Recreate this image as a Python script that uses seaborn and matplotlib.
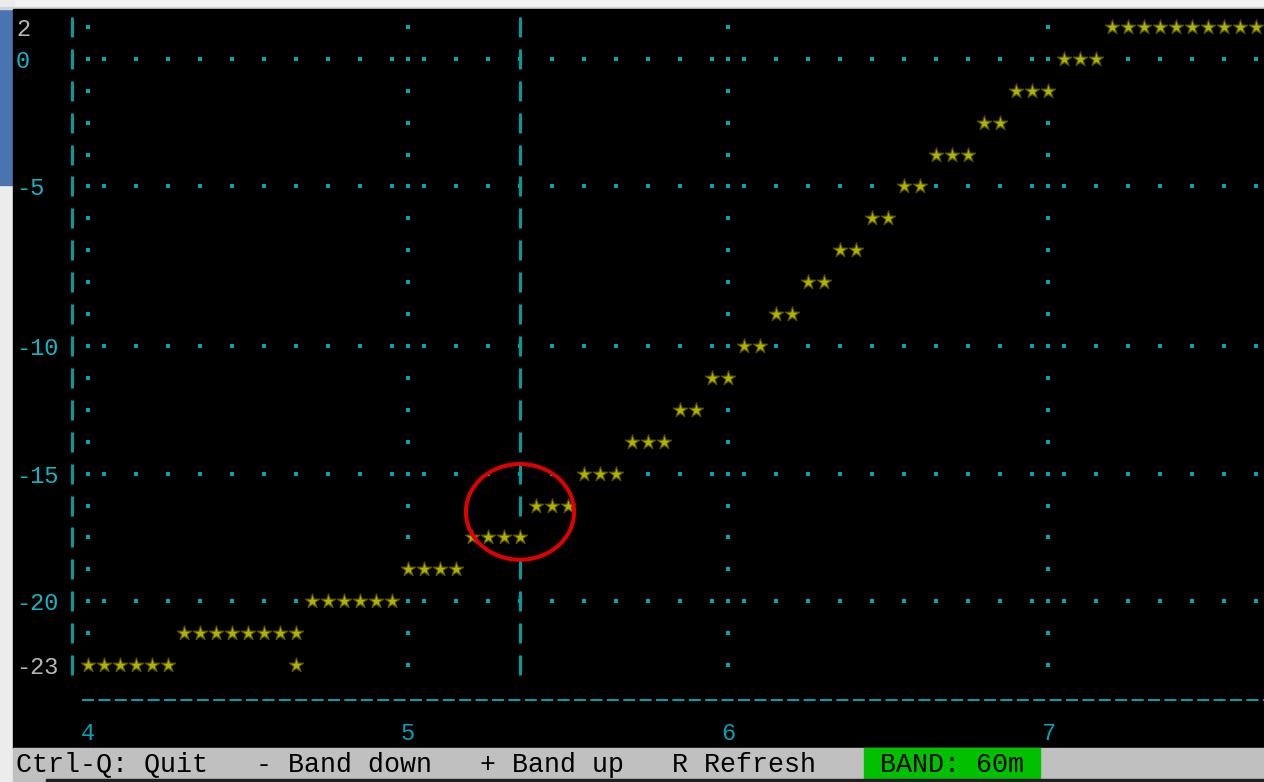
import matplotlib
matplotlib.use("Agg")
import matplotlib.pyplot as plt
from matplotlib.patches import Rectangle, Ellipse
import numpy as np
import pandas as pd
import seaborn as sns

# sweep: one star per 0.05 MHz column
sweep_mhz = [4.00, 4.05, 4.10, 4.15, 4.20, 4.25,
             4.30, 4.35, 4.40, 4.45, 4.50, 4.55, 4.60, 4.65,
             4.70, 4.75, 4.80, 4.85, 4.90, 4.95,
             5.00, 5.05, 5.10, 5.15,
             5.20, 5.25, 5.30, 5.35,
             5.40, 5.45, 5.50,
             5.55, 5.60, 5.65,
             5.70, 5.75, 5.80,
             5.85, 5.90, 5.95, 6.00, 6.05, 6.10, 6.15, 6.20,
             6.25, 6.30, 6.35, 6.40, 6.45, 6.50, 6.55, 6.60,
             6.65, 6.70, 6.75,
             6.80, 6.85,
             6.90, 6.95, 7.00,
             7.05, 7.10, 7.15,
             7.20, 7.25, 7.30, 7.35, 7.40, 7.45, 7.50, 7.55, 7.60, 7.65]
sweep_db = [-23.0, -23.0, -23.0, -23.0, -23.0, -23.0,
            -21.75, -21.75, -21.75, -21.75, -21.75, -21.75, -21.75, -21.75,
            -20.5, -20.5, -20.5, -20.5, -20.5, -20.5,
            -19.25, -19.25, -19.25, -19.25,
            -18.0, -18.0, -18.0, -18.0,
            -16.75, -16.75, -16.75,
            -15.5, -15.5, -15.5,
            -14.25, -14.25, -14.25,
            -13.0, -13.0, -11.75, -11.75, -10.5, -10.5, -9.25, -9.25,
            -8.0, -8.0, -6.75, -6.75, -5.5, -5.5, -4.25, -4.25,
            -3.0, -3.0, -3.0,
            -1.75, -1.75,
            -0.5, -0.5, -0.5,
            0.75, 0.75, 0.75,
            2.0, 2.0, 2.0, 2.0, 2.0, 2.0, 2.0, 2.0, 2.0, 2.0]
# stray second star in the 4.65 MHz column
extra_mhz = [4.65]
extra_db = [-23.0]

# terminal rows (one text line each) and the labelled ones
row_db = [2.0, 0.75, -0.5, -1.75, -3.0, -4.25, -5.5, -6.75, -8.0, -9.25, -10.5,
          -11.75, -13.0, -14.25, -15.5, -16.75, -18.0, -19.25, -20.5, -21.75, -23.0]
ytick_db = [2.0, 0.75, -4.25, -10.5, -15.5, -20.5, -23.0]
ytick_labels = ['2', '0', '-5', '-10', '-15', '-20', '-23']
grid_db = [0.75, -4.25, -10.5, -15.5, -20.5]
xtick_mhz = [4, 5, 6, 7]
xtick_labels = ['4', '5', '6', '7']
marker_mhz = 5.35
circle_db = -17.0
band = '60m'
status_keys = 'Ctrl-Q: Quit   - Band down   + Band up   R Refresh'

CYAN = '#00aaaa'
GREY = '#b8b8b8'
W, H = 1264, 782

plt.rcParams['font.family'] = ['Liberation Mono', 'DejaVu Sans Mono']


def box(x, y, w, h, color):
    # rectangle given in screen pixels from the top-left corner
    return Rectangle((x / W, 1 - (y + h) / H), w / W, h / H,
                     transform=fig.transFigure, color=color, zorder=0)


fig = plt.figure(figsize=(W / 100, H / 100), dpi=100, facecolor='#f3f3f3')
fig.add_artist(box(0, 0, 14, H, '#ececec'))
fig.add_artist(box(0, 9, 12, 176, '#4a74b0'))
fig.add_artist(box(0, 7, W, 2, '#d4d4d4'))
fig.add_artist(box(13, 9, W - 13, 740, '#000000'))
fig.add_artist(box(13, 748, W - 13, 34, '#c0c0c0'))
fig.add_artist(box(864, 748, 176, 31, '#00c000'))
fig.add_artist(box(46, 779, W - 46, 3, '#202020'))
fig.text(16 / W, 1 - 765 / H, status_keys, size=19.2, color='black',
         ha='left', va='center')
fig.text(880 / W, 1 - 765 / H, 'BAND: ' + band, size=19.2, color='black',
         ha='left', va='center')

ax = fig.add_axes([64 / W, (H - 700) / H, (W - 64) / W, 691 / H])
ax.set_facecolor('none')

# cells already taken by stars
taken = {(round(f * 20), round(d * 4)) for f, d in zip(sweep_mhz + extra_mhz, sweep_db + extra_db)}

# dotted grid: vertical lines at whole MHz, horizontal lines on labelled rows
odd_cols = np.round(np.arange(4.05, 7.7, 0.1), 2)
cells = [(f, d) for f in xtick_mhz for d in row_db]
cells += [(f, d) for d in grid_db for f in odd_cols]
cells = [(f, d) for f, d in cells if (round(f * 20), round(d * 4)) not in taken]
ax.plot([c[0] for c in cells], [c[1] for c in cells], ls='none', marker='s',
        ms=2.8, mew=0, color=CYAN)

# y axis bar and the frequency marker, drawn as '|' characters per row
ax.plot([3.95] * len(row_db), row_db, ls='none', marker='|', ms=14.5, mew=2.2,
        color='#009c9c')
mark_rows = [d for d in row_db if (round(marker_mhz * 20), round(d * 4)) not in taken]
ax.plot([marker_mhz] * len(mark_rows), mark_rows, ls='none', marker='|', ms=14.5,
        mew=2.2, color='#009c9c')

df = pd.DataFrame({'mhz': sweep_mhz + extra_mhz, 'db': sweep_db + extra_db})
sns.scatterplot(data=df, x='mhz', y='db', marker='*', s=120, color='#b4b400',
                edgecolor='#555500', linewidth=0.8, ax=ax, zorder=3)

ax.add_patch(Ellipse((marker_mhz, circle_db), 0.338, 3.75, fill=False,
                     ec='#e00000', lw=2.9, zorder=4))

ax.set_xlim(3.925, 7.675)
ax.set_ylim(-24.371, 2.705)
ax.set_xlabel('')
ax.set_ylabel('')
for s in ['top', 'right', 'left']:
    ax.spines[s].set_visible(False)
sp = ax.spines['bottom']
sp.set_color('#00a0a8')
sp.set_linewidth(1.44)
sp.set_linestyle((0, (6, 2.2)))
sp.set_capstyle('butt')
sp.set_bounds(3.98, 7.675)

ax.set_xticks(xtick_mhz, labels=xtick_labels)
ax.set_yticks(ytick_db, labels=ytick_labels)
ax.tick_params(axis='x', length=0, pad=15.5, labelsize=17, labelcolor='#0aa0b4')
ax.tick_params(axis='y', length=0, pad=34.5, labelsize=17)
for lbl, text in zip(ax.get_yticklabels(), ytick_labels):
    lbl.set_ha('left')
    lbl.set_color(GREY if text in ('2', '-23') else '#14b4c4')

fig.savefig('out.png', dpi=100, facecolor=fig.get_facecolor())
